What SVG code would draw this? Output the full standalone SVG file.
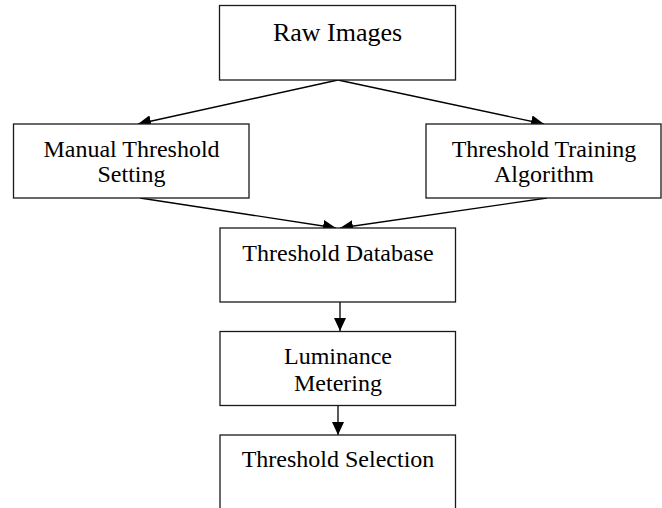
<svg xmlns="http://www.w3.org/2000/svg" width="662" height="508" viewBox="0 0 662 508">
  <style>
    .box { fill: #ffffff; stroke: #1a1a1a; stroke-width: 1.3; }
    .lbl { font-family: "Liberation Serif", "Times New Roman", serif; font-size: 24px; fill: #000000; text-anchor: middle; }
    .edge { fill: none; stroke: #000000; stroke-width: 1.3; marker-end: url(#arrow); }
  </style>
  <defs>
    <marker id="arrow" viewBox="0 0 13 12" refX="13" refY="6" markerWidth="13" markerHeight="12" markerUnits="userSpaceOnUse" orient="auto">
      <path d="M0,0 L13,6 L0,12 Z" fill="#000000"/>
    </marker>
  </defs>
  <rect width="662" height="508" fill="#ffffff"/>

  <g id="connectors">
    <line class="edge" x1="338" y1="80" x2="138" y2="124"/>
    <line class="edge" x1="338" y1="80" x2="544" y2="124"/>
    <line class="edge" x1="140" y1="198" x2="336" y2="228"/>
    <line class="edge" x1="547" y1="198" x2="340" y2="228"/>
    <line class="edge" x1="340" y1="302" x2="340" y2="331"/>
    <line class="edge" x1="338" y1="406" x2="338" y2="435"/>
  </g>

  <g id="raw-images">
    <rect class="box" x="219.5" y="5.5" width="236" height="74.5"/>
    <text class="lbl" x="337.5" y="41" style="font-size:26px">Raw Images</text>
  </g>

  <g id="manual-threshold">
    <rect class="box" x="13.5" y="124" width="235.5" height="74"/>
    <text class="lbl" x="131.5" y="157">Manual Threshold</text>
    <text class="lbl" x="131.5" y="182">Setting</text>
  </g>

  <g id="threshold-training">
    <rect class="box" x="426" y="124" width="235" height="74"/>
    <text class="lbl" x="544" y="157">Threshold Training</text>
    <text class="lbl" x="544" y="182">Algorithm</text>
  </g>

  <g id="threshold-database">
    <rect class="box" x="220" y="228" width="235.5" height="74"/>
    <text class="lbl" x="338" y="261">Threshold Database</text>
  </g>

  <g id="luminance-metering">
    <rect class="box" x="220" y="331.5" width="235.5" height="74"/>
    <text class="lbl" x="338" y="364">Luminance</text>
    <text class="lbl" x="338" y="391">Metering</text>
  </g>

  <g id="threshold-selection">
    <rect class="box" x="220" y="435" width="235.5" height="80"/>
    <text class="lbl" x="338" y="467">Threshold Selection</text>
  </g>
</svg>
